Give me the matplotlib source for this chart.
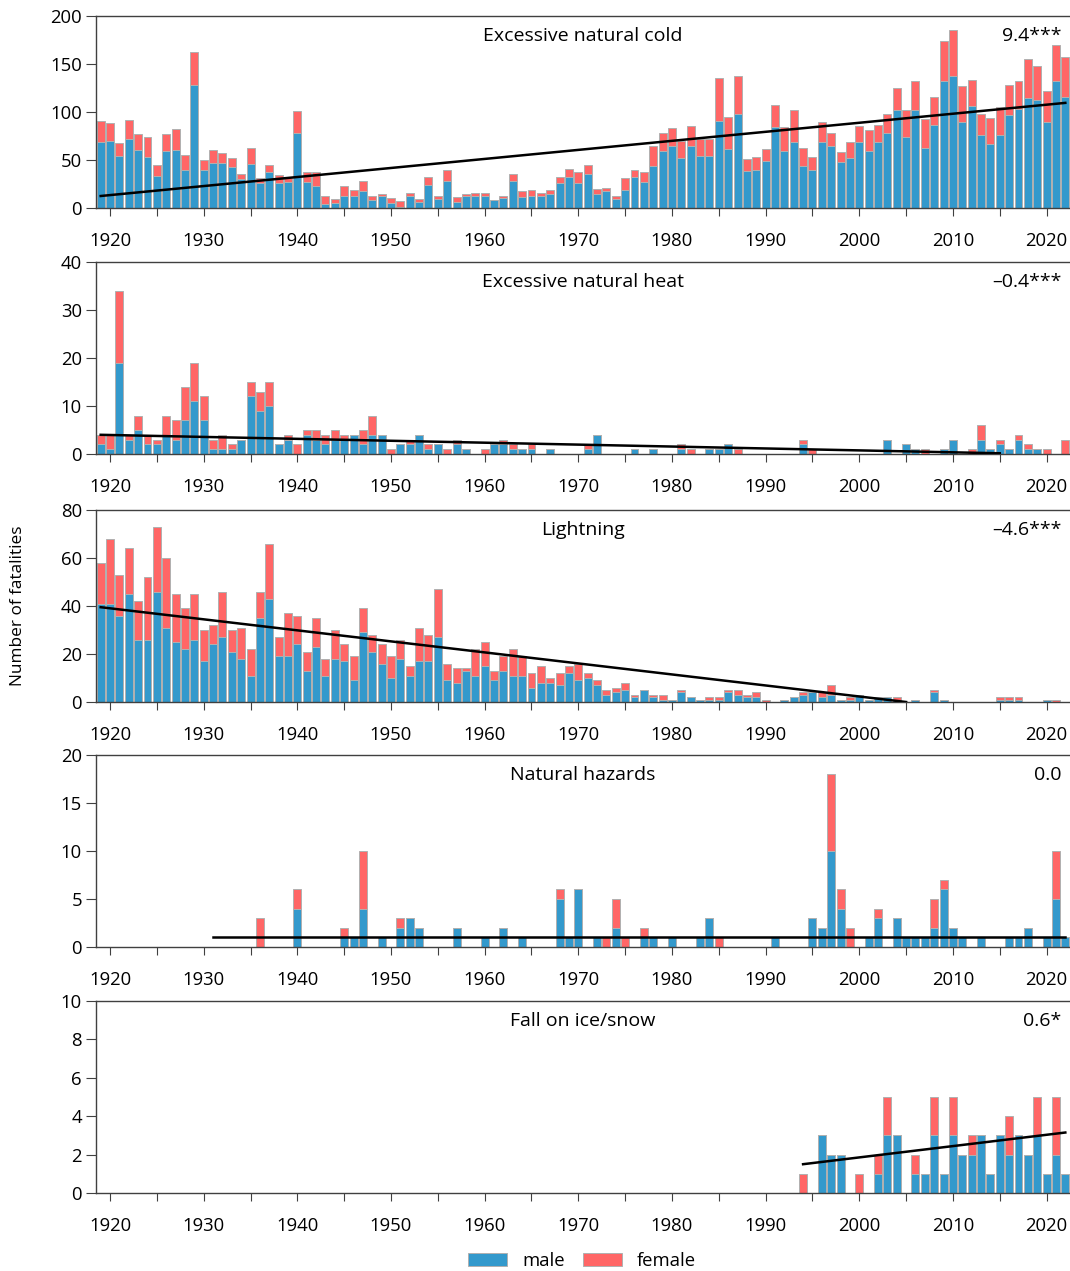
import matplotlib
matplotlib.use("Agg")
import matplotlib.pyplot as plt
import numpy as np

plt.rcParams["font.family"] = ["Open Sans", "DejaVu Sans"]
plt.rcParams["font.size"] = 12

# %% data
years = np.arange(1919, 2023)

cold_male = [69, 70, 54, 72, 60, 53, 33, 59, 60, 40,
             128, 40, 47, 47, 43, 30, 46, 26, 37, 26,
             27, 78, 27, 23, 4, 5, 13, 13, 18, 8,
             12, 5, 1, 13, 6, 24, 9, 28, 6, 12,
             12, 13, 8, 10, 28, 11, 13, 12, 15, 26,
             32, 26, 35, 15, 18, 9, 19, 32, 27, 44,
             59, 65, 52, 65, 54, 54, 91, 61, 98, 39,
             40, 49, 84, 59, 69, 44, 40, 69, 65, 48,
             52, 69, 59, 69, 78, 102, 74, 102, 63, 86,
             132, 138, 90, 106, 76, 67, 76, 97, 103, 115,
             112, 90, 132, 116]
cold_female = [22, 19, 14, 20, 17, 21, 12, 18, 22, 15,
               34, 10, 13, 10, 9, 5, 17, 5, 8, 8,
               4, 23, 11, 15, 9, 4, 10, 6, 10, 4,
               3, 5, 6, 3, 3, 8, 4, 12, 5, 3,
               4, 3, 0, 3, 7, 7, 6, 4, 4, 6,
               9, 11, 10, 5, 3, 4, 12, 8, 10, 21,
               19, 18, 18, 20, 18, 18, 44, 34, 40, 12,
               13, 12, 23, 25, 33, 19, 13, 21, 13, 10,
               17, 16, 22, 17, 20, 23, 28, 30, 30, 30,
               42, 47, 37, 27, 22, 27, 29, 31, 29, 40,
               36, 32, 38, 41]

heat_male = [2, 1, 19, 3, 5, 2, 2, 4, 3, 7,
             11, 7, 1, 1, 1, 3, 12, 9, 10, 2,
             3, 0, 4, 3, 2, 3, 3, 4, 2, 4,
             4, 0, 2, 2, 4, 1, 2, 0, 2, 1,
             0, 0, 2, 2, 1, 1, 1, 0, 1, 0,
             0, 0, 1, 4, 0, 0, 0, 1, 0, 1,
             0, 0, 1, 0, 0, 1, 1, 2, 0, 0,
             0, 0, 0, 0, 0, 2, 0, 0, 0, 0,
             0, 0, 0, 0, 3, 0, 2, 1, 0, 0,
             1, 3, 0, 0, 3, 1, 2, 1, 3, 1,
             1, 0, 0, 0]
heat_female = [2, 3, 15, 1, 3, 2, 1, 4, 4, 7,
               8, 5, 2, 3, 1, 0, 3, 4, 5, 0,
               1, 2, 1, 2, 2, 2, 1, 0, 3, 4,
               0, 1, 0, 1, 0, 1, 0, 1, 1, 0,
               0, 1, 0, 1, 1, 0, 1, 0, 0, 0,
               0, 0, 1, 0, 0, 0, 0, 0, 0, 0,
               0, 0, 1, 1, 0, 0, 0, 0, 1, 0,
               0, 0, 0, 0, 0, 1, 1, 0, 0, 0,
               0, 0, 0, 0, 0, 0, 0, 0, 1, 0,
               0, 0, 0, 1, 3, 0, 1, 0, 1, 1,
               0, 1, 0, 3]

light_male = [41, 41, 36, 45, 26, 26, 46, 31, 25, 22,
              26, 17, 24, 27, 21, 18, 11, 35, 43, 19,
              19, 24, 13, 23, 11, 18, 17, 9, 29, 21,
              16, 10, 18, 11, 17, 17, 27, 9, 8, 13,
              11, 15, 9, 13, 11, 11, 6, 8, 8, 7,
              12, 9, 10, 7, 3, 4, 5, 2, 5, 2,
              1, 1, 4, 2, 1, 1, 1, 4, 3, 2,
              2, 0, 0, 1, 2, 3, 4, 2, 3, 1,
              1, 3, 1, 2, 2, 1, 0, 1, 0, 4,
              1, 0, 0, 0, 0, 0, 1, 1, 1, 0,
              0, 1, 0, 0]
light_female = [17, 27, 17, 19, 16, 26, 27, 29, 20, 17,
                19, 13, 8, 19, 9, 13, 11, 11, 23, 8,
                18, 12, 8, 12, 7, 12, 7, 10, 10, 7,
                8, 9, 8, 4, 14, 11, 20, 7, 6, 1,
                11, 10, 4, 6, 11, 8, 6, 7, 2, 5,
                3, 7, 2, 2, 2, 2, 3, 1, 0, 1,
                2, 0, 1, 0, 0, 1, 1, 1, 2, 1,
                2, 1, 0, 0, 0, 1, 0, 2, 4, 0,
                1, 0, 0, 0, 0, 1, 0, 0, 0, 1,
                0, 0, 0, 0, 0, 0, 1, 1, 1, 0,
                0, 0, 1, 0]

haz_male = [0] * 20 + [0, 4, 0, 0, 0, 0, 1, 1, 4, 0,
                       1, 0, 2, 3, 2, 0, 0, 0, 2, 0,
                       0, 1, 0, 2, 0, 1, 0, 0, 0, 5,
                       1, 6, 0, 1, 0, 2, 0, 0, 1, 1,
                       0, 1, 0, 0, 1, 3, 0, 0, 0, 0,
                       0, 0, 1, 0, 0, 0, 3, 2, 10, 4,
                       0, 0, 1, 3, 0, 3, 1, 1, 1, 2,
                       6, 2, 1, 0, 1, 0, 0, 1, 1, 2,
                       0, 1, 5, 1]
haz_female = [0] * 10 + [0, 0, 0, 0, 0, 0, 0, 3, 0, 0,
                         0, 2, 0, 0, 0, 0, 1, 0, 6, 0,
                         0, 0, 1, 0, 0, 0, 0, 0, 0, 0,
                         0, 0, 0, 0, 0, 0, 0, 0, 0, 1,
                         0, 0, 0, 0, 1, 3, 1, 0, 1, 0,
                         0, 0, 0, 0, 0, 0, 1, 0, 0, 0,
                         0, 0, 0, 0, 0, 0, 0, 0, 8, 2,
                         2, 0, 0, 1, 0, 0, 0, 0, 0, 3,
                         1, 0, 0, 0, 0, 0, 0, 0, 0, 0,
                         0, 0, 5, 0]

ice_male = [0] * 70 + [0, 0, 0, 0, 0, 0, 0, 3, 2, 2,
                       0, 0, 0, 1, 3, 3, 0, 1, 1, 3,
                       1, 3, 2, 2, 3, 1, 3, 2, 3, 2,
                       3, 1, 2, 1]
ice_female = [0] * 70 + [0, 0, 0, 0, 0, 1, 0, 0, 0, 0,
                         0, 1, 0, 1, 2, 0, 0, 1, 0, 2,
                         0, 2, 0, 1, 0, 0, 0, 2, 0, 0,
                         2, 0, 3, 0]

titles = ["Excessive natural cold", "Excessive natural heat", "Lightning",
          "Natural hazards", "Fall on ice/snow"]
trend_labels = ["9.4***", "\u20130.4***", "\u20134.6***", "0.0", "0.6*"]
# trend lines: (start year, end year), (start value, end value)
trend_years = [(1919, 2022), (1919, 2015), (1919, 2005), (1931, 2022), (1994, 2022)]
trend_values = [(12.5, 109.5), (4.0, 0.15), (39.5, 0.0), (1.0, 1.0), (1.5, 3.15)]
ymax = [200, 40, 80, 20, 10]
ystep = [50, 10, 20, 5, 2]

males = [cold_male, heat_male, light_male, haz_male, ice_male]
females = [cold_female, heat_female, light_female, haz_female, ice_female]

# %%
blue = "#3399cc"
red = "#ff6666"
edge = "#b0b0b0"
spine_c = "#404040"

fig = plt.figure(figsize=(10.7, 12.71), dpi=100)
left, width, height = 96 / 1070, 974 / 1070, 192 / 1271
bottoms_px = [208, 454, 702, 947, 1193]

axes = []
for i in range(5):
    ax = fig.add_axes([left, 1 - bottoms_px[i] / 1271, width, height])
    m = np.array(males[i])
    f = np.array(females[i])
    bm = ax.bar(years, m, width=0.85, color=blue, edgecolor=edge, linewidth=0.7, label="male")
    bf = ax.bar(years, f, width=0.85, bottom=m, color=red, edgecolor=edge, linewidth=0.7, label="female")
    ax.plot(trend_years[i], trend_values[i], color="black", lw=1.8, zorder=5)

    ax.set_xlim(1918.5, 2022.5)
    ax.set_ylim(0, ymax[i])
    ax.set_yticks(np.arange(0, ymax[i] + 1, ystep[i]))
    ax.set_xticks(np.arange(1920, 2025, 5))
    ax.set_xticklabels([str(y) if y % 10 == 0 else "" for y in range(1920, 2025, 5)])
    ax.tick_params(axis="x", length=6, pad=11, colors=spine_c, labelcolor="black", labelsize=13.3)
    ax.tick_params(axis="y", length=7, pad=3, colors=spine_c, labelcolor="black", labelsize=13.3)
    ax.spines["right"].set_visible(False)
    for s in ["top", "left", "bottom"]:
        ax.spines[s].set_color(spine_c)
        ax.spines[s].set_linewidth(1.0)

    ax.text(0.5, 0.895, titles[i], transform=ax.transAxes, ha="center", va="center", fontsize=14)
    ax.text(0.991, 0.895, trend_labels[i], transform=ax.transAxes, ha="right", va="center", fontsize=14)
    axes.append(ax)

fig.text(0.017, 1 - 606 / 1271, "Number of fatalities", rotation=90, ha="center", va="center", fontsize=12.4)

fig.legend(handles=[bm, bf], labels=["male", "female"], loc="center", bbox_to_anchor=(0.544, 1 - 1261 / 1271),
           ncols=2, frameon=False, handlelength=2.1, handleheight=0.75, columnspacing=1.0, handletextpad=0.8,
           fontsize=13.3)

fig.savefig("out.png", dpi=100)
